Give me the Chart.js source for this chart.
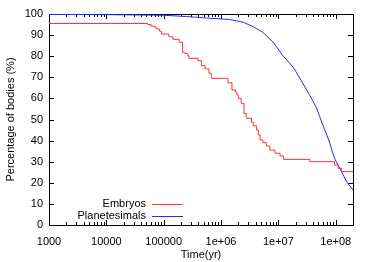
<!DOCTYPE html>
<html>
<head>
<meta charset="utf-8">
<script src="https://cdn.jsdelivr.net/npm/chart.js@4/dist/chart.umd.min.js"></script>
<style>
  body { margin: 0; background: #fff; }
  canvas { display: block; }
</style>
</head>
<body>
<canvas id="survival-chart" width="374" height="262"></canvas>
<script>
// Embryos: surviving fraction (time in yr, value after each step)
const embryoTime = [1e3, 5.3e4, 6.0e4, 7.1e4, 7.6e4, 8.5e4, 9.1e4, 1.23e5, 1.45e5, 1.86e5, 2.14e5,
  2.34e5, 2.63e5, 2.75e5, 3.98e5, 4.57e5, 5.25e5, 6.17e5, 6.76e5, 1.32e6, 1.55e6, 1.78e6, 1.9e6,
  2.0e6, 2.24e6, 2.51e6, 2.75e6, 3.39e6, 3.63e6, 4.17e6, 4.47e6, 4.79e6, 5.37e6, 6.17e6, 7.08e6,
  8.71e6, 1.07e7, 1.23e7, 3.55e7, 9.55e7, 1.1e8, 1.26e8, 1.78e8, 2e8]
const embryoPct = [96, 95.5, 95, 94.2, 93.4, 92.9, 91.8, 90.5, 89.2, 88, 86.6,
  81.8, 81.3, 80.2, 79, 77.9, 75.5, 74, 71.9, 69.5, 67.4, 64, 63,
  61.6, 60, 57.7, 52.9, 50.6, 48.8, 47, 45, 42.7, 40.3, 39, 37.4,
  35.5, 34, 32.7, 31.1, 30, 28.4, 26.9, 25.3, 25.3]

// Planetesimals
const planetTime = [1e3, 1e4, 1e5, 2.5e5, 5.6e5, 1.41e6, 2.43e6, 3.63e6, 5.37e6, 8.13e6, 1.2e7,
  1.82e7, 2.51e7, 3.55e7, 4.57e7, 6.03e7, 6.92e7, 7.94e7, 8.91e7, 9.77e7, 1.26e8, 1.55e8, 2e8]
const planetPct = [99.8, 99.7, 99.4, 98.8, 98.1, 97.4, 96.1, 94, 91.3, 86.6, 80.2,
  74.7, 68.4, 61.3, 55.8, 47, 43, 38.5, 34, 31, 25.3, 20.5, 16.6]

const xMajorTicks = [1e3, 1e4, 1e5, 1e6, 1e7, 1e8]
const xTickLabels = ['1000', '10000', '100000', '1e+06', '1e+07', '1e+08']
const seriesLabels = ['Embryos', 'Planetesimals']
const seriesColors = ['rgb(255, 50, 50)', 'rgb(40, 40, 255)']

const toPoints = (xs, ys) => xs.map((x, i) => ({ x: x, y: ys[i] }))

const font = { family: '"Liberation Sans", Arial, sans-serif', size: 11 }
Chart.defaults.color = '#000'

// gnuplot-like frame with inward ticks (under the lines) and legend inside the plot
const framePlugin = {
  id: 'frame',
  beforeDatasetsDraw (chart) {
    const ctx = chart.ctx
    const a = chart.chartArea
    const xs = chart.scales.x
    const ys = chart.scales.y
    ctx.save()
    ctx.strokeStyle = '#000'
    ctx.lineWidth = 1
    ctx.beginPath()
    xs.ticks.forEach((t) => {
      const px = Math.round(xs.getPixelForValue(t.value)) + 0.5
      const len = xMajorTicks.includes(t.value) ? 5 : 3
      ctx.moveTo(px, a.bottom); ctx.lineTo(px, a.bottom - len)
      ctx.moveTo(px, a.top); ctx.lineTo(px, a.top + len)
    })
    ys.ticks.forEach((t) => {
      const py = Math.round(ys.getPixelForValue(t.value)) + 0.5
      ctx.moveTo(a.left, py); ctx.lineTo(a.left + 5, py)
      ctx.moveTo(a.right, py); ctx.lineTo(a.right - 5, py)
    })
    ctx.stroke()
    ctx.strokeRect(Math.round(a.left) + 0.5, Math.round(a.top) + 0.5, Math.round(a.right - a.left), Math.round(a.bottom - a.top))
    ctx.restore()
  },
  afterDraw (chart) {
    const ctx = chart.ctx
    const a = chart.chartArea
    ctx.save()
    ctx.font = '11px ' + font.family
    ctx.textAlign = 'right'
    ctx.textBaseline = 'middle'
    chart.data.datasets.forEach((ds, i) => {
      const y = 203.5 + i * 12.5
      ctx.fillStyle = '#000'
      ctx.fillText(ds.label, a.left + 97, y)
      ctx.strokeStyle = ds.borderColor
      ctx.lineWidth = 1
      ctx.beginPath()
      ctx.moveTo(a.left + 103, Math.round(y) + 0.5)
      ctx.lineTo(a.left + 134, Math.round(y) + 0.5)
      ctx.stroke()
    })
    ctx.restore()
  }
}

const data = {
  datasets: [{
    label: seriesLabels[0],
    data: toPoints(embryoTime, embryoPct),
    borderColor: seriesColors[0],
    borderWidth: 1,
    stepped: 'after',
    pointRadius: 0
  }, {
    label: seriesLabels[1],
    data: toPoints(planetTime, planetPct),
    borderColor: seriesColors[1],
    borderWidth: 1,
    pointRadius: 0
  }]
}

const config = {
  type: 'line',
  data: data,
  options: {
    responsive: false,
    animation: false,
    layout: { padding: { top: 14, right: 21, left: 0, bottom: 0 } },
    plugins: { legend: { display: false }, tooltip: { enabled: false } },
    scales: {
      x: {
        type: 'logarithmic',
        min: 1000,
        max: 2e8,
        grid: { display: false, drawTicks: false },
        border: { display: false },
        afterBuildTicks (scale) {
          const ticks = []
          xMajorTicks.forEach((d) => {
            for (let m = 1; m < 10; m++) {
              if (d * m <= 2e8) ticks.push({ value: d * m })
            }
          })
          scale.ticks = ticks
        },
        afterFit (scale) { scale.height = 37 },
        ticks: {
          autoSkip: false,
          maxRotation: 0,
          padding: 10,
          font: font,
          callback: (v) => {
            const i = xMajorTicks.indexOf(v)
            return i >= 0 ? xTickLabels[i] : ''
          }
        },
        title: { display: true, text: 'Time(yr)', font: font, padding: { top: 0, bottom: 0 } }
      },
      y: {
        min: 0,
        max: 100,
        grid: { display: false, drawTicks: false },
        border: { display: false },
        afterFit (scale) { scale.width = 49 },
        ticks: { stepSize: 10, padding: 6, font: font },
        title: { display: true, text: 'Percentage of bodies (%)', font: font, padding: { top: 4, bottom: 0 } }
      }
    }
  },
  plugins: [framePlugin]
}

const survivalChart = new Chart(document.querySelector('#survival-chart'), config)
</script>
</body>
</html>
